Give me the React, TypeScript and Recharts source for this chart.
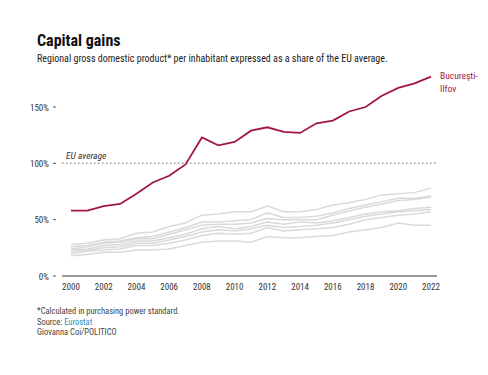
import { LineChart, Line, XAxis, YAxis, ReferenceLine } from "recharts"

const FONT = '"Liberation Sans Narrow", "Roboto Condensed", Roboto, sans-serif'
const RED = "#a3173f"
const GREY = "#dadada"

const years = [
  2000, 2001, 2002, 2003, 2004, 2005, 2006, 2007, 2008, 2009, 2010, 2011,
  2012, 2013, 2014, 2015, 2016, 2017, 2018, 2019, 2020, 2021, 2022,
]

// Bucureşti-Ilfov, % of EU average
const bucuresti = [
  58, 58, 62, 64, 73, 83, 89, 99, 123, 116, 119, 129, 132, 128, 127, 135.5,
  138, 146, 150, 160, 167, 171, 177,
]

// the other seven regions (grey)
const regionA = [28, 29, 32, 33, 38, 39, 44, 47, 54, 55, 57, 57, 62, 57, 57, 59, 63, 65, 68, 72, 73, 74, 78]
const regionB = [26, 27, 30, 31, 34, 35, 39, 43, 48, 48, 49, 50, 56, 52, 52, 53, 56, 60, 63, 66, 69, 69, 71]
const regionC = [24, 26, 29, 30, 33, 33, 37, 41, 45, 46, 46, 47, 51, 50, 50, 50, 54, 58, 61, 64, 67, 68, 70]
const regionD = [23, 24, 27, 28, 31, 31, 34, 37, 42, 44, 42, 44, 48, 46, 48, 47, 49, 52, 55, 57, 58, 60, 61]
const regionE = [22, 23, 25, 26, 29, 29, 32, 35, 39, 41, 40, 42, 45, 43, 44, 45, 47, 50, 53, 55, 57, 58, 59]
const regionF = [20, 22, 23, 24, 27, 27, 29, 32, 36, 38, 37, 38, 43, 40, 41, 42, 43, 46, 50, 52, 54, 55, 57]
const regionG = [18, 19, 21, 21, 23, 23, 24, 27, 30, 31, 31, 30, 35, 34, 34, 35, 36, 39, 41, 43, 47, 45, 45]

const greyKeys = ["a", "b", "c", "d", "e", "f", "g"]
const greySeries = [regionA, regionB, regionC, regionD, regionE, regionF, regionG]

const xTicks = [2000, 2002, 2004, 2006, 2008, 2010, 2012, 2014, 2016, 2018, 2020, 2022]
const yTicks = [0, 50, 100, 150]

const data = years.map((year, i) => {
  const row: Record<string, number> = { year, bucuresti: bucuresti[i] }
  greyKeys.forEach((k, j) => {
    row[k] = greySeries[j][i]
  })
  return row
})

function YTick(props: any) {
  const { x, y, payload } = props
  return (
    <g>
      <text x={x - 5} y={y} dy={3.5} textAnchor="end" fontSize={9} fill="#333" fontFamily={FONT}>
        {payload.value}%
      </text>
      <line x1={x - 1} x2={x + 2} y1={y} y2={y} stroke="#555" strokeWidth={1} />
    </g>
  )
}

function EndLabel(props: any) {
  const { x, y, index } = props
  if (index !== years.length - 1) return null
  return (
    <text x={x + 9} y={y + 2} fontSize={9.5} fill={RED} fontFamily={FONT}>
      <tspan x={x + 9}>Bucureşti-</tspan>
      <tspan x={x + 9} dy={13}>Ilfov</tspan>
    </text>
  )
}

function EuLabel(props: any) {
  const { viewBox } = props
  return (
    <text x={viewBox.x + 4} y={viewBox.y - 4} fontSize={9.5} fill="#333" fontStyle="italic" fontFamily={FONT}>
      EU average
    </text>
  )
}

export default function App() {
  return (
    <div style={{ position: "absolute", left: 0, top: 0, width: 488, height: 375, background: "#fff", fontFamily: FONT }}>
      <div style={{ position: "absolute", left: 37, top: 31, fontSize: 16, fontWeight: 700, color: "#111" }}>
        Capital gains
      </div>
      <div style={{ position: "absolute", left: 37, top: 53, fontSize: 10, color: "#222" }}>
        Regional gross domestic product* per inhabitant expressed as a share of the EU average.
      </div>
      <LineChart
        width={488}
        height={375}
        data={data}
        margin={{ top: 73.2, right: 51, bottom: 69, left: 0 }}
        style={{ position: "absolute", left: 0, top: 0 }}
      >
        <XAxis
          dataKey="year"
          type="number"
          domain={[2000, 2022]}
          ticks={xTicks}
          padding={{ left: 9, right: 6 }}
          tickLine={false}
          axisLine={{ stroke: "#333", strokeWidth: 1 }}
          tick={{ fontSize: 9, fill: "#333", fontFamily: FONT }}
          tickMargin={2}
          height={30}
          interval={0}
        />
        <YAxis
          domain={[0, 180]}
          ticks={yTicks}
          width={62}
          axisLine={false}
          tickLine={false}
          tick={<YTick />}
        />
        <ReferenceLine
          y={100}
          stroke="#999"
          strokeWidth={1.5}
          strokeDasharray="1.5 2.5"
          label={<EuLabel />}
        />
        {greyKeys.map((k) => (
          <Line
            key={k}
            dataKey={k}
            type="linear"
            stroke={GREY}
            strokeWidth={1.5}
            dot={false}
            isAnimationActive={false}
          />
        ))}
        <Line
          dataKey="bucuresti"
          type="linear"
          stroke={RED}
          strokeWidth={1.8}
          dot={false}
          label={<EndLabel />}
          isAnimationActive={false}
        />
      </LineChart>
      <div style={{ position: "absolute", left: 37, top: 306, fontSize: 8.5, lineHeight: "10.5px", color: "#444", zIndex: 1 }}>
        <div>*Calculated in purchasing power standard.</div>
        <div>
          Source: <span style={{ color: "#2b8cc4" }}>Eurostat</span>
        </div>
        <div>Giovanna Coi/POLITICO</div>
      </div>
    </div>
  )
}
